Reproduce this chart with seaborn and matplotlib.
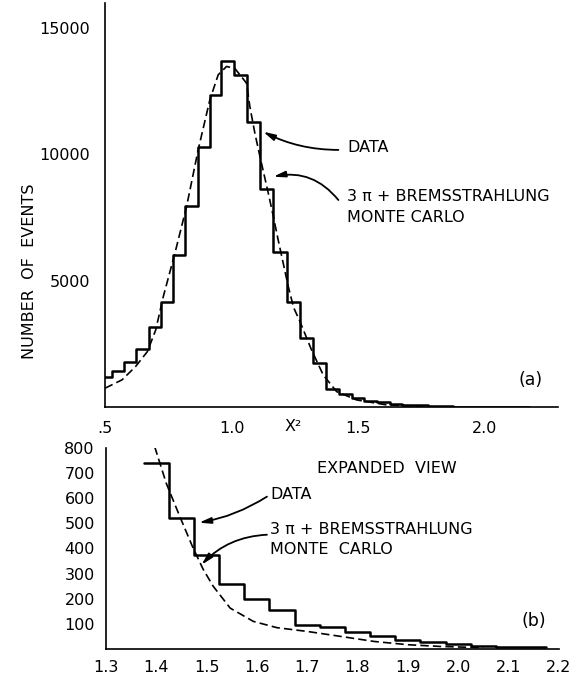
import numpy as np
import pandas as pd
import matplotlib
matplotlib.use("Agg")
import matplotlib.pyplot as plt
import seaborn as sns

# ---------------- data ----------------
# left edges of the histogram bins as drawn in the original figure
bin_left = [0.475, 0.526, 0.576, 0.622, 0.675, 0.721, 0.767, 0.816, 0.866, 0.914,
            0.958, 1.009, 1.062, 1.112, 1.164, 1.217, 1.270, 1.322, 1.375, 1.425,
            1.475, 1.525, 1.575, 1.625, 1.675, 1.725, 1.775, 1.825, 1.875, 1.925,
            1.975, 2.025, 2.075, 2.125]
bin_right_end = 2.175
counts = [1220, 1420, 1790, 2300, 3170, 4185, 6030, 7980, 10290, 12360,
          13680, 13150, 11300, 8630, 6160, 4150, 2735, 1770, 740, 520,
          375, 260, 200, 153, 95, 88, 68, 50, 35, 27,
          18, 12, 7, 5]

mc_top_x = [0.50, 0.567, 0.62, 0.667, 0.70, 0.73, 0.776, 0.822, 0.868, 0.914,
            0.947, 0.98, 1.013, 1.059, 1.072, 1.092, 1.112, 1.145, 1.165, 1.184,
            1.204, 1.224, 1.245, 1.27, 1.316, 1.362, 1.415, 1.494, 1.612, 1.75]
mc_top_y = [760, 1090, 1610, 2205, 3060, 4380, 6100, 7940, 10190, 12160,
            13150, 13480, 13400, 12820, 11900, 10840, 9920, 8470, 7550, 6625,
            5700, 4780, 3950, 3400, 2270, 1285, 625, 296, 100, 40]

mc_b_x = [1.397, 1.42, 1.447, 1.472, 1.493, 1.513, 1.547, 1.593, 1.64, 1.70,
          1.767, 1.833, 1.90, 1.965, 2.05]
mc_b_y = [806, 660, 527, 408, 318, 250, 162, 109, 84, 69,
          49, 29, 16, 9, 4]

top_xticks = [0.5, 1.0, 1.5, 2.0]
top_xticklabels = [".5", "1.0", "1.5", "2.0"]
top_yticks = [5000, 10000, 15000]
b_xticks = [1.3, 1.4, 1.5, 1.6, 1.7, 1.8, 1.9, 2.0, 2.1, 2.2]
b_xticklabels = ["1.3", "1.4", "1.5", "1.6", "1.7", "1.8", "1.9", "2.0", "2.1", "2.2"]
b_yticks = [100, 200, 300, 400, 500, 600, 700, 800]

# ---------------- style ----------------
sns.set_style("white")
plt.rcParams["font.family"] = ["DejaVu Sans"]
plt.rcParams["axes.linewidth"] = 1.2
for k in ["text.color", "axes.labelcolor", "xtick.color", "ytick.color", "axes.edgecolor"]:
    plt.rcParams[k] = "black"

hist_df = pd.DataFrame({"x": bin_left + [bin_right_end],
                        "y": counts + [counts[-1]]})
hist_b = hist_df[hist_df["x"] >= 1.375]
mc_top = pd.DataFrame({"x": mc_top_x, "y": mc_top_y})
mc_b = pd.DataFrame({"x": mc_b_x, "y": mc_b_y})

fig = plt.figure(figsize=(5.74, 6.79), dpi=100)
fig.patch.set_facecolor("white")
ax1 = fig.add_axes([0.1831, 0.4, 0.789, 0.596])
ax2 = fig.add_axes([0.1845, 0.0446, 0.789, 0.2952])

DASH = (0, (5, 2.5))
ARROW = "-|>,head_length=0.7,head_width=0.18"
fs = 11.5

# ---- panel (a)
sns.lineplot(data=hist_df, x="x", y="y", ax=ax1, color="black", lw=1.8,
             drawstyle="steps-post", estimator=None, sort=False)
sns.lineplot(data=mc_top, x="x", y="y", ax=ax1, color="black", lw=1.2,
             linestyle=DASH, estimator=None, sort=False)
ax1.set_xlim(0.5, 2.29)
ax1.set_ylim(0, 16000)
ax1.set_xticks(top_xticks)
ax1.set_xticklabels(top_xticklabels)
ax1.set_yticks(top_yticks)
ax1.set_yticklabels([str(v) for v in top_yticks])
ax1.set_xlabel("")
ax1.set_ylabel("")
for s in ["top", "right"]:
    ax1.spines[s].set_visible(False)
ax1.tick_params(axis="x", direction="in", length=5, width=1.2, pad=10, labelsize=11.5)
ax1.tick_params(axis="y", direction="in", length=5, width=1.2, pad=11, labelsize=11.5)
ax1.text(1.245, -0.048, "X²", transform=ax1.get_xaxis_transform(),
         ha="center", va="center", fontsize=11.5)

ax1.text(1.457, 10257, "DATA", fontsize=fs, va="center", ha="left")
ax1.text(1.458, 8332, "3 π + BREMSSTRAHLUNG", fontsize=fs, va="center", ha="left")
ax1.text(1.458, 7490, "MONTE CARLO", fontsize=fs, va="center", ha="left")
ax1.annotate("", xy=(1.125, 10900), xytext=(1.422, 10180),
             arrowprops=dict(arrowstyle=ARROW, connectionstyle="arc3,rad=-0.12",
                             color="black", lw=1.3, shrinkA=0, shrinkB=0))
ax1.annotate("", xy=(1.165, 9122), xytext=(1.422, 8200),
             arrowprops=dict(arrowstyle=ARROW, connectionstyle="arc3,rad=0.3",
                             color="black", lw=1.3, shrinkA=0, shrinkB=0))
ax1.text(2.183, 1087, "(a)", fontsize=12.5, ha="center", va="center")

# ---- panel (b)
sns.lineplot(data=hist_b, x="x", y="y", ax=ax2, color="black", lw=1.8,
             drawstyle="steps-post", estimator=None, sort=False)
sns.lineplot(data=mc_b, x="x", y="y", ax=ax2, color="black", lw=1.2,
             linestyle=DASH, estimator=None, sort=False)
ax2.set_xlim(1.3, 2.2)
ax2.set_ylim(0, 800)
ax2.set_xticks(b_xticks)
ax2.set_xticklabels(b_xticklabels)
ax2.set_yticks(b_yticks)
ax2.set_yticklabels([str(v) for v in b_yticks])
ax2.set_xlabel("")
ax2.set_ylabel("")
for s in ["top", "right"]:
    ax2.spines[s].set_visible(False)
ax2.tick_params(axis="x", direction="in", length=5, width=1.2, pad=8, labelsize=11.5)
ax2.tick_params(axis="y", direction="in", length=4, width=1.2, pad=8, labelsize=11.5)

ax2.text(1.72, 720, "EXPANDED  VIEW", fontsize=fs, va="center", ha="left")
ax2.text(1.626, 616, "DATA", fontsize=fs, va="center", ha="left")
ax2.text(1.626, 474, "3 π + BREMSSTRAHLUNG", fontsize=fs, va="center", ha="left")
ax2.text(1.626, 394, "MONTE  CARLO", fontsize=fs, va="center", ha="left")
ax2.annotate("", xy=(1.485, 503), xytext=(1.62, 607),
             arrowprops=dict(arrowstyle=ARROW, connectionstyle="arc3,rad=-0.1",
                             color="black", lw=1.3, shrinkA=0, shrinkB=0))
ax2.annotate("", xy=(1.49, 335), xytext=(1.62, 455),
             arrowprops=dict(arrowstyle=ARROW, connectionstyle="arc3,rad=0.2",
                             color="black", lw=1.3, shrinkA=0, shrinkB=0))
ax2.text(2.15, 109, "(b)", fontsize=12.5, ha="center", va="center")

fig.text(30 / 574, 1 - 271 / 679, "NUMBER  OF  EVENTS", rotation=90,
         ha="center", va="center", fontsize=11.5)

fig.savefig("out.png", dpi=100, facecolor="white")
